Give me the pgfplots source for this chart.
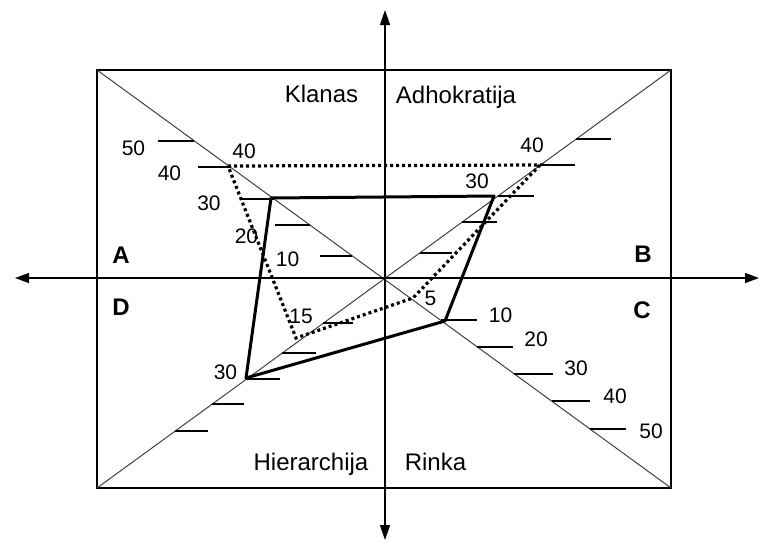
\documentclass[border=0pt]{standalone}
\usepackage{pgfplots}
\pgfplotsset{compat=1.18}
\usetikzlibrary{arrows.meta}
\usepackage{fontspec}
\setmainfont{Liberation Sans}
\tikzset{
  tk/.style={black, line width=0.6pt},
  num/.style={anchor=base, font=\fontsize{10.5}{12}\selectfont, inner sep=0pt},
  lab/.style={anchor=base, font=\fontsize{12}{14}\selectfont, inner sep=0pt},
  quad/.style={anchor=base, font=\fontsize{12}{14}\selectfont\bfseries, inner sep=0pt},
}
\begin{document}
\begin{tikzpicture}
\useasboundingbox (0,0) rectangle (380pt,271pt);
\begin{axis}[
  at={(0,0)}, anchor=south west,
  scale only axis, width=380pt, height=271pt,
  xmin=0, xmax=760, ymin=0, ymax=542, y dir=reverse,
  hide axis, clip=false,
  every axis plot/.append style={no markers},
]
% frame
\addplot[black, line width=0.75pt] coordinates {(97,70) (671,70) (671,488) (97,488)} -- cycle;
% diagonals
\addplot[black!75, line width=0.5pt] coordinates {(97,70) (671,488)};
\addplot[black!75, line width=0.5pt] coordinates {(97,488) (671,70)};
% axes with arrows
\addplot[black, line width=0.65pt, {Triangle[length=7pt,width=5pt]}-{Triangle[length=7pt,width=5pt]}] coordinates {(15,278) (759,278)};
\addplot[black, line width=0.65pt, {Triangle[length=7.5pt,width=5pt]}-{Triangle[length=7.5pt,width=5pt]}] coordinates {(385,10) (385,540)};
% ticks A (upper left)
\addplot[tk] coordinates {(320,256) (352,256)};
\addplot[tk] coordinates {(275,225) (310,225)};
\addplot[tk] coordinates {(240,199) (274,199)};
\addplot[tk] coordinates {(198,167) (230,167)};
\addplot[tk] coordinates {(158,141) (194,141)};
% ticks B (upper right)
\addplot[tk] coordinates {(420,253) (452,253)};
\addplot[tk] coordinates {(462,222) (497,222)};
\addplot[tk] coordinates {(498,196) (534,196)};
\addplot[tk] coordinates {(540,165) (575,165)};
\addplot[tk] coordinates {(576,139) (611,139)};
% ticks C (lower right)
\addplot[tk] coordinates {(441,320) (477,320)};
\addplot[tk] coordinates {(477,347) (513,347)};
\addplot[tk] coordinates {(514,374) (553,374)};
\addplot[tk] coordinates {(552,401) (590,401)};
\addplot[tk] coordinates {(590,429) (626,429)};
% ticks D (lower left)
\addplot[tk] coordinates {(323,323) (353,323)};
\addplot[tk] coordinates {(282,353) (316,353)};
\addplot[tk] coordinates {(246,379) (280,379)};
\addplot[tk] coordinates {(212,404) (244,404)};
\addplot[tk] coordinates {(175,431) (208,431)};
% profile 1 (solid): A=30, B=30, C=10, D=30
\addplot[black, line width=1.5pt, line join=round] coordinates {(271,198) (494,196) (445,321) (246,378)} -- cycle;
% profile 2 (dotted): A=40, B=40, C=5, D=15
\addplot[black, line width=1.6pt, dash pattern=on 1.5pt off 1.5pt] coordinates {(228,166) (540,165) (413,298) (296,338)} -- cycle;
% labels
\node[lab] at (axis cs:321.5,102.7) {Klanas};
\node[lab] at (axis cs:456,103) {Adhokratija};
\node[lab] at (axis cs:311,470) {Hierarchija};
\node[lab] at (axis cs:435.5,470) {Rinka};
\node[quad] at (axis cs:121,263) {A};
\node[quad] at (axis cs:643,262) {B};
\node[quad] at (axis cs:642,318) {C};
\node[quad] at (axis cs:121,315) {D};
% numbers A
\node[num] at (axis cs:133.5,155) {50};
\node[num] at (axis cs:169.5,180.7) {40};
\node[num] at (axis cs:244,158) {40};
\node[num] at (axis cs:209,210.7) {30};
\node[num] at (axis cs:246.5,243) {20};
\node[num] at (axis cs:287.5,266.7) {10};
% numbers B
\node[num] at (axis cs:532,152.7) {40};
\node[num] at (axis cs:477,188) {30};
% numbers C
\node[num] at (axis cs:430.5,305) {5};
\node[num] at (axis cs:500.5,322.3) {10};
\node[num] at (axis cs:536,346.7) {20};
\node[num] at (axis cs:576,375) {30};
\node[num] at (axis cs:615,403) {40};
\node[num] at (axis cs:651,438) {50};
% numbers D
\node[num] at (axis cs:301,323) {15};
\node[num] at (axis cs:225.5,379) {30};
\end{axis}
\end{tikzpicture}
\end{document}
